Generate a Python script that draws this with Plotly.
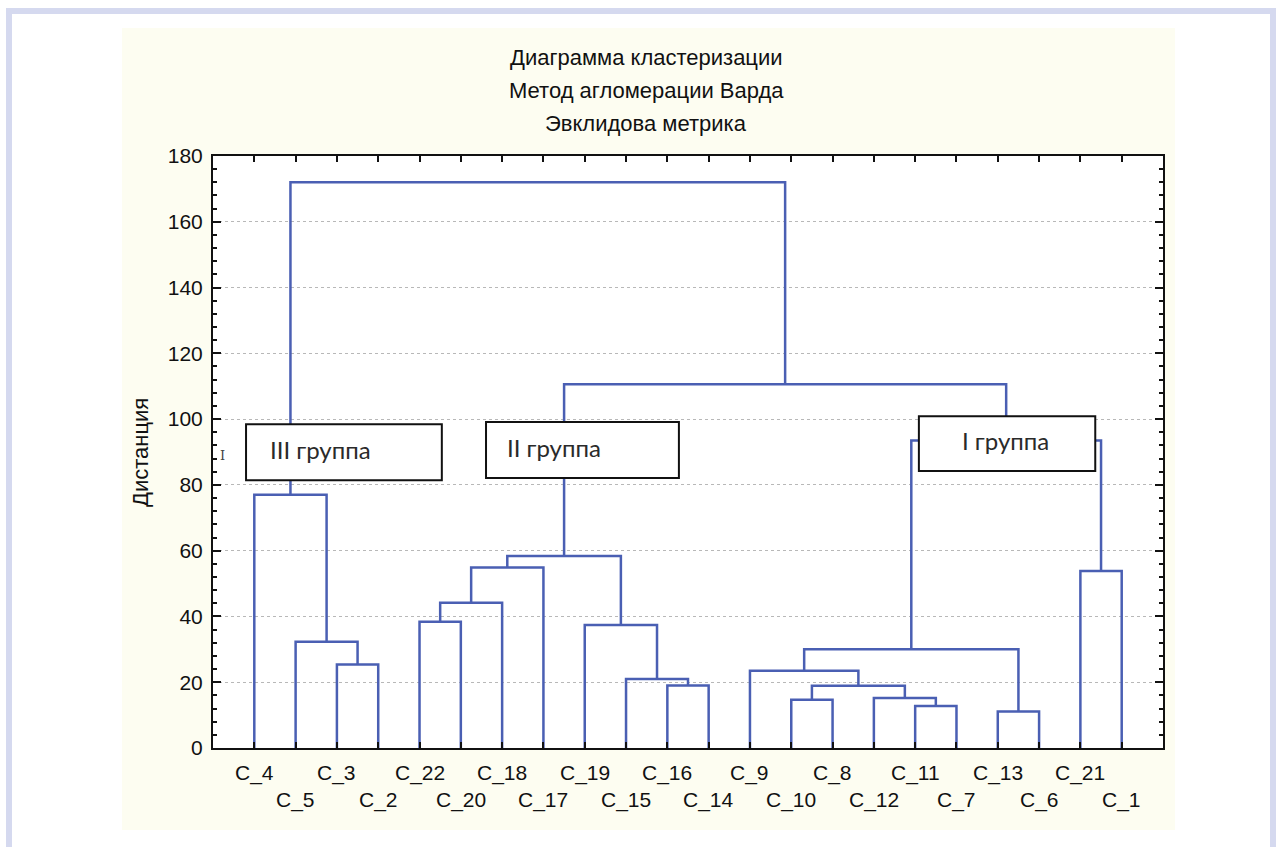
import plotly.graph_objects as go

# ---------------- data ----------------
leaves = ["C_4", "C_5", "C_3", "C_2", "C_22", "C_20", "C_18", "C_17", "C_19", "C_15",
          "C_16", "C_14", "C_9", "C_10", "C_8", "C_12", "C_11", "C_7", "C_13", "C_6",
          "C_21", "C_1"]

# merges: left child, right child, linkage distance (new cluster is named "m<k>")
merge_left = ["C_3", "C_5", "C_4", "C_22", "m3", "m4", "C_16", "C_15", "C_19", "m5",
              "C_10", "C_11", "C_12", "m10", "C_9", "C_13", "m14", "C_21", "m16", "m9", "m2"]
merge_right = ["C_2", "m0", "m1", "C_20", "C_18", "C_17", "C_14", "m6", "m7", "m8",
               "C_8", "C_7", "m11", "m12", "m13", "C_6", "m15", "C_1", "m17", "m18", "m19"]
merge_height = [25.4, 32.3, 77.0, 38.4, 44.2, 54.9, 19.0, 21.0, 37.4, 58.4,
                14.7, 12.8, 15.2, 18.9, 23.5, 11.1, 30.0, 53.8, 93.5, 110.6, 172.0]

y_ticks = [0, 20, 40, 60, 80, 100, 120, 140, 160, 180]

title_lines = ["Диаграмма кластеризации", "Метод агломерации Варда", "Эвклидова метрика"]
y_title = "Дистанция"
group_labels = ["III группа", "II группа", "I группа"]

# ---------------- build dendrogram segments ----------------
pos = {name: i + 1 for i, name in enumerate(leaves)}
hgt = {name: 0.0 for name in leaves}
xs, ys = [], []
for k, (a, b, h) in enumerate(zip(merge_left, merge_right, merge_height)):
    xa, xb = pos[a], pos[b]
    ya, yb = hgt[a], hgt[b]
    xs += [xa, xa, xb, xb, None]
    ys += [ya, h, h, yb, None]
    pos["m%d" % k] = (xa + xb) / 2
    hgt["m%d" % k] = h

LINE = "#4a5fb3"
FONT = "Liberation Sans, Arial, sans-serif"

fig = go.Figure()
fig.add_trace(go.Scatter(x=xs, y=ys, mode="lines",
                         line=dict(color=LINE, width=2.5),
                         hoverinfo="skip", showlegend=False))

W, H = 1279, 847
L, R, T, B = 213, 1163, 156, 748
pw, ph = R - L, B - T


def px2paper_x(px):
    return (px - L) / pw


def px2paper_y(py):
    return (B - py) / ph


shapes = []
# cream background panel
shapes.append(dict(type="rect", xref="paper", yref="paper", layer="below",
                   x0=px2paper_x(122), x1=px2paper_x(1175),
                   y0=px2paper_y(830), y1=px2paper_y(28),
                   fillcolor="#fdfdf1", line=dict(width=0)))
# outer lavender frame
shapes.append(dict(type="rect", xref="paper", yref="paper", layer="below",
                   x0=px2paper_x(9), x1=px2paper_x(1273),
                   y0=px2paper_y(880), y1=px2paper_y(11),
                   fillcolor="rgba(0,0,0,0)", line=dict(width=6, color="#d5d9ef")))
# plot area white background
shapes.append(dict(type="rect", xref="paper", yref="paper", layer="below",
                   x0=0, x1=1, y0=0, y1=1, fillcolor="white", line=dict(width=0)))

# group boxes (data coordinates)
boxes = [(0.80, 5.54, 81.4, 98.4), (6.61, 11.28, 82.1, 99.1), (17.09, 21.36, 84.2, 100.9)]
text_x = [1.33, 7.07, 18.08]
annotations = []
for (x0, x1, y0, y1), tx, lab in zip(boxes, text_x, group_labels):
    shapes.append(dict(type="rect", xref="x", yref="y", layer="above",
                       x0=x0, x1=x1, y0=y0, y1=y1, fillcolor="white",
                       line=dict(color="#111111", width=2)))
    annotations.append(dict(x=tx, y=(y0 + y1) / 2 + 0.8, xref="x", yref="y",
                            text=lab, showarrow=False, xanchor="left", yanchor="middle",
                            font=dict(family="Lato, Open Sans, sans-serif", size=24,
                                      color="#2a2a2a")))

# leaf labels in two staggered rows
for i, name in enumerate(leaves):
    annotations.append(dict(x=i + 1, y=0, xref="x", yref="paper", text=name,
                            showarrow=False, xanchor="center", yanchor="middle",
                            yshift=-25 if i % 2 == 0 else -52,
                            font=dict(family=FONT, size=21, color="#111111")))

# title lines
for line, py in zip(title_lines, [58, 90, 123]):
    annotations.append(dict(x=px2paper_x(646), y=px2paper_y(py), xref="paper", yref="paper",
                            text=line, showarrow=False, xanchor="center", yanchor="middle",
                            font=dict(family=FONT, size=22, color="#111111")))

# y axis title
annotations.append(dict(x=px2paper_x(140), y=px2paper_y(453), xref="paper", yref="paper",
                        text=y_title, showarrow=False, textangle=-90,
                        xanchor="center", yanchor="middle",
                        font=dict(family=FONT, size=22, color="#111111")))
# small I-beam cursor artifact
annotations.append(dict(x=px2paper_x(222), y=px2paper_y(455), xref="paper", yref="paper",
                        text="I", showarrow=False, xanchor="center", yanchor="middle",
                        font=dict(family="DejaVu Serif, serif", size=13, color="#444444")))

fig.update_layout(
    width=W, height=H,
    margin=dict(l=L, r=W - R, t=T, b=H - B, pad=0),
    paper_bgcolor="white", plot_bgcolor="white",
    shapes=shapes, annotations=annotations,
    showlegend=False,
    xaxis=dict(range=[0, 23], tickvals=list(range(1, len(leaves) + 1)),
               showticklabels=False, ticks="inside", ticklen=6, tickwidth=2,
               tickcolor="#111111", showline=True, linecolor="#111111", linewidth=2,
               mirror="ticks", showgrid=False, zeroline=False, fixedrange=True),
    yaxis=dict(range=[0, 180], tickvals=y_ticks, ticks="inside", ticklen=8, tickwidth=2,
               tickcolor="#111111", showline=True, linecolor="#111111", linewidth=2,
               mirror="ticks", showgrid=True, gridcolor="#b8b8b8", griddash="dot",
               gridwidth=1, zeroline=False, ticklabelstandoff=4,
               tickfont=dict(family=FONT, size=21, color="#111111"),
               minor=dict(dtick=4, ticks="inside", ticklen=4, tickwidth=2,
                          tickcolor="#111111", showgrid=False),
               fixedrange=True),
)

fig.write_html("out.html", config={"displayModeBar": False},
               post_script="document.body.style.margin='0';document.body.style.overflow='hidden';")
